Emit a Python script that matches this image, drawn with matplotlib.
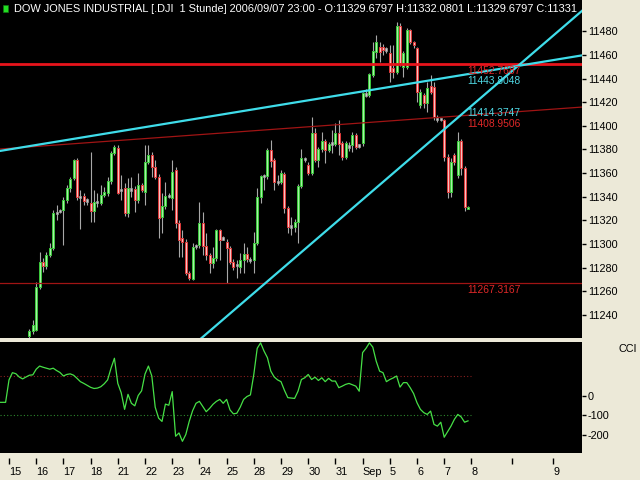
import matplotlib
matplotlib.use('Agg')
import matplotlib.pyplot as plt
from matplotlib.patches import Rectangle
import numpy as np

plt.rcParams['font.family'] = ['Liberation Sans', 'DejaVu Sans']

# ---------------- data ----------------
first_bar = 6
opens = [11222, 11226, 11227, 11264, 11285, 11281, 11291, 11296.4, 11326, 11327.5,
         11329, 11337, 11347, 11355.6, 11371, 11340, 11340.7, 11336.5, 11334.5, 11328,
         11335.5, 11335, 11341.5, 11343, 11353, 11377, 11381,
         11345, 11347, 11326.6, 11346.5, 11346.3, 11337.3, 11350, 11344.3, 11369.7, 11375.3,
         11364.9, 11357, 11322.6, 11332.2, 11340.5, 11338.7, 11362.7, 11318.1, 11304.8, 11302,
         11275.2, 11270.2, 11298, 11299.2, 11317.5, 11298.4, 11290.8, 11283.7, 11288, 11311.9,
         11304.5, 11302, 11296.4, 11285.1,
         11282, 11280.9, 11286.5, 11291.6, 11286.3, 11286.5, 11301.2, 11340.1, 11357, 11357.6,
         11379.6, 11371.1, 11352.5, 11352.8, 11359.3, 11330.3, 11314.5, 11314.7, 11319, 11349.1,
         11371.5, 11366.9, 11359.9, 11393.7, 11371.1, 11380.2, 11387.5, 11379.6, 11385, 11384.4,
         11393.7, 11385.2, 11374, 11382.2,
         11383.8, 11392.3, 11384, 11385.2, 11426, 11426.5, 11443, 11462.8, 11467, 11467,
         11464.6, 11461.4, 11448.7, 11445.9, 11484.8, 11450, 11450, 11481.1, 11471.2, 11465.6,
         11417.7, 11426.1, 11419.1, 11434, 11433.2, 11405.6, 11405.6, 11405, 11374, 11344.3,
         11375.4, 11358.4, 11387.2, 11364.1, 11329.6797]
highs = [11228, 11235.7, 11268, 11293, 11288, 11293.5, 11300.6, 11328.8, 11333, 11330,
         11340, 11350, 11357, 11372, 11373, 11345.7, 11343, 11339, 11377.6, 11345.7,
         11343, 11350, 11348.5, 11357, 11379, 11384, 11384,
         11358.4, 11351.4, 11355.6, 11357, 11349, 11359.8, 11352, 11383.8, 11383.8, 11378,
         11371, 11359, 11342.9, 11352.8, 11343, 11371.1, 11365, 11320, 11311.9, 11304,
         11277, 11300.6, 11300, 11335.9, 11327.4, 11309, 11292, 11297.8, 11313, 11313,
         11306.5, 11304, 11298, 11287,
         11286.5, 11292.2, 11300.6, 11297.8, 11289.4, 11310.5, 11347.2, 11358.5, 11359.3, 11381,
         11388, 11373, 11358.5, 11362.7, 11361, 11332, 11323.2, 11321, 11351, 11380.2,
         11374, 11369, 11407.8, 11397.9, 11382, 11395.1, 11389, 11386, 11396.5, 11402.2,
         11405, 11387, 11387, 11386,
         11395, 11394, 11385, 11429, 11431, 11445, 11471.2, 11476.9, 11471.2, 11469,
         11467, 11468.4, 11468.4, 11488.2, 11487, 11463, 11482.5, 11482, 11472, 11467,
         11431, 11428, 11437.4, 11443, 11437.4, 11409.2, 11407, 11406, 11376, 11372.5,
         11377, 11395.1, 11389, 11366, 11332.0801]
lows = [11219, 11224, 11226, 11262, 11276, 11279, 11289, 11295, 11320.3, 11326,
        11299, 11335, 11344, 11354, 11337, 11313, 11333, 11333, 11319, 11319,
        11331.6, 11333, 11340, 11341, 11351, 11375, 11342,
        11337.3, 11324, 11323.2, 11340, 11327.4, 11335, 11344, 11333, 11368, 11357,
        11355, 11304.9, 11309.1, 11330, 11339, 11328.8, 11313.3, 11289.3, 11289.3, 11273.8,
        11269.6, 11269.6, 11296, 11297, 11290.8, 11286.5, 11275.2, 11279.5, 11286, 11286.5,
        11303, 11266.8, 11283, 11278,
        11271, 11275.3, 11275.3, 11285, 11283.7, 11275.3, 11299, 11334.5, 11345.8, 11355,
        11365.5, 11345.8, 11350, 11351, 11326, 11309.1, 11307.7, 11310.5, 11300.6, 11347,
        11369, 11358, 11358, 11369, 11365.5, 11378, 11368.3, 11378, 11376.8, 11383,
        11375.4, 11371, 11372, 11379,
        11378.2, 11380, 11381, 11383, 11424, 11424, 11441, 11457.1, 11454.3, 11460,
        11462, 11437.4, 11440.2, 11444, 11451, 11441.6, 11448, 11469, 11466, 11420.5,
        11415, 11414.8, 11412, 11427, 11405, 11403.6, 11404, 11370, 11338.7, 11340.1,
        11367, 11356, 11358.4, 11328, 11329.6797]
closes = [11226, 11231.5, 11264, 11285, 11281, 11291, 11296.4, 11326, 11327, 11328,
          11337, 11347, 11354.7, 11371, 11340, 11339.5, 11336.7, 11337, 11328, 11335.8,
          11336, 11341.5, 11344.3, 11353.6, 11377, 11382, 11343,
          11346, 11326, 11347, 11346, 11337.3, 11350, 11345.7, 11369.7, 11375.3, 11364.9,
          11357, 11321.8, 11332.2, 11340.7, 11341, 11361.2, 11317.5, 11303.4, 11302, 11275.2,
          11271, 11297.8, 11298.5, 11317.5, 11298.4, 11290.8, 11283.7, 11288, 11311.9, 11303.4,
          11305, 11296.4, 11285.1, 11280.9,
          11282.5, 11286.5, 11291.6, 11287.1, 11286.7, 11300.6, 11340.1, 11357.6, 11358, 11379.6,
          11370.6, 11352.8, 11352.8, 11359.9, 11330.3, 11314.7, 11315, 11319, 11349.1, 11372.6,
          11372, 11359.9, 11393.7, 11371.1, 11380.2, 11387.5, 11379.6, 11384.7, 11385.4, 11393.7,
          11384.4, 11374, 11385.2, 11382.6,
          11392.3, 11382.4, 11383, 11427.5, 11426.8, 11443.6, 11463.3, 11470.7, 11462.8, 11464.2,
          11464.8, 11445.9, 11445.9, 11484.8, 11452.9, 11461.4, 11481.1, 11471.2, 11468.4, 11428.9,
          11428.9, 11419.1, 11432.3, 11428.9, 11407.8, 11405.9, 11405.9, 11374, 11344.3, 11369.7,
          11369.7, 11387.2, 11364.1, 11331.7, 11331]

cci_first = -3
cci = [-35, -35, -35, 80, 117, 112, 95, 85, 95, 104, 106, 135, 151, 145, 140, 135, 140, 128,
       118, 100, 108, 111, 104, 88, 71, 62, 52, 42, 36, 38, 45, 60, 80, 140, 191, 62, 14, -71,
       6, -40, -53, 0, 24, 110, 151, 100, -60, -116, -133, -44, -50, 20, -209, -192, -235, -200,
       -133, -78, -40, -30, -57, -83, -66, -45, -30, -20, -40, -20, -74, -94, -91, -60, -20, -5,
       3, 108, 242, 270, 228, 194, 125, 95, 80, 71, 27, -11, -13, -15, 22, 82, 91, 108, 82, 94,
       77, 91, 71, 88, 74, 74, 40, 48, 57, 62, 55, 48, 22, 220, 242, 270, 248, 176, 125, 117,
       71, 82, 90, 100, 43, 66, 66, 40, 10, -37, -71, -88, -97, -80, -148, -157, -137, -214,
       -185, -157, -122, -97, -110, -137, -130]

day_labels = ['15', '16', '17', '18', '21', '22', '23', '24', '25', '28', '29', '30', '31',
              'Sep', '5', '6', '7', '8', '', '9']
day_ticks = [0, 8, 16, 24, 32, 40, 48, 56, 64, 72, 80, 88, 96, 104, 112, 120, 128, 136, 148, 160]

hlines_red = [11452.7687, 11267.3167]
trend_cyan_values = [11443.8048, 11414.3747]
trend_cyan_slopes = [0.4724, 2.474]
trend_red_value = 11408.9506
trend_red_slope = 0.2075
price_ticks = list(range(11240, 11481, 20))
cci_ticks = [0, -100, -200]
title = ("DOW JONES INDUSTRIAL [.DJI  1 Stunde] 2006/09/07 23:00 - O:11329.6797 "
         "H:11332.0801 L:11329.6797 C:11331")

# ---------------- figure ----------------
BG = '#ECE9D8'
fig = plt.figure(figsize=(6.4, 4.8), dpi=100)
fig.patch.set_facecolor(BG)
ax = fig.add_axes([0, 1 - 338 / 480, 581.7 / 640, 338 / 480])
ax2 = fig.add_axes([0, 1 - 452.7 / 480, 581.7 / 640, (452.7 - 341.7) / 480])
for a in (ax, ax2):
    a.set_facecolor('black')
    for s in a.spines.values():
        s.set_visible(False)

xmin, xmax = -2.65, 168.44
n = len(opens)
xs = np.arange(first_bar, first_bar + n)
o = np.array(opens); h = np.array(highs); l = np.array(lows); c = np.array(closes)

ax.vlines(xs, l, h, color='#A8A8A8', linewidth=0.8, zorder=2)
up = c - o > 1.2
dn = o - c > 1.2
dj = ~(up | dn)
ax.bar(xs[up], (c - o)[up], bottom=o[up], width=0.62, color='#A6EFA6',
       edgecolor='#3BC83B', linewidth=0.7, zorder=3)
ax.bar(xs[dn], (o - c)[dn], bottom=c[dn], width=0.62, color='#F4C2C2',
       edgecolor='#E03A3A', linewidth=0.7, zorder=3)
mid = (o + c) / 2
ax.bar(xs[dj], np.full(dj.sum(), 2.0), bottom=mid[dj] - 1.0, width=0.62,
       color='#C8C8C8', edgecolor='#A0A0A0', linewidth=0.5, zorder=3)

last = first_bar + n - 1
lx = np.array([xmin - 5, xmax + 5])
# trend lines
ax.axhline(hlines_red[0], color='#E8141B', linewidth=2.0, zorder=5)
ax.axhline(hlines_red[1], color='#A01414', linewidth=0.9, zorder=5)
ax.plot(lx, trend_red_value + trend_red_slope * (lx - last), color='#A01414', linewidth=0.9, zorder=5)
for v, s in zip(trend_cyan_values, trend_cyan_slopes):
    ax.plot(lx, v + s * (lx - last), color='#3FDDEA', linewidth=1.6, zorder=6)

lab_x = last - 0.3
def lbl(val, col, dy=-1.5):
    ax.annotate(f"{val:.4f}", (lab_x, val), xytext=(0, dy), textcoords='offset points',
                va='top', ha='left', color=col, fontsize=7.4, zorder=7)
lbl(hlines_red[0], '#E02828')
lbl(trend_cyan_values[0], '#4FD8E4')
lbl(trend_cyan_values[1], '#4FD8E4', dy=0.5)
lbl(trend_red_value, '#E02828', dy=-3.0)
lbl(hlines_red[1], '#E02828')

ax.set_xlim(xmin, xmax)
ax.set_ylim(11220.5, 11506.5)
ax.yaxis.tick_right()
ax.set_yticks(price_ticks)
ax.set_yticklabels([str(t) for t in price_ticks])
ax.tick_params(axis='y', direction='out', length=3, width=1, pad=1.5, colors='black',
               labelsize=7.8)
ax.set_xticks([])

ax.text(14 / 581.7, 1 - 8.5 / 338, title, transform=ax.transAxes, color='white',
        fontsize=7.9, va='center', ha='left', clip_on=True, zorder=8)
ax.add_patch(Rectangle((2.5 / 581.7, 1 - 12 / 338), 5 / 581.7, 7 / 338, transform=ax.transAxes,
                       facecolor='#22DD22', edgecolor='#117711', linewidth=0.5, zorder=8))

# CCI panel
cx = np.arange(cci_first, cci_first + len(cci))
ax2.plot([xmin, 136], [100, 100], color='#8A2020', linestyle=(0, (1, 2)), linewidth=0.8)
ax2.plot([xmin, 136], [-100, -100], color='#2E8A2E', linestyle=(0, (1, 2)), linewidth=0.8)
ax2.plot(cx, cci, color='#46E046', linewidth=0.9)
ax2.set_xlim(xmin, xmax)
ax2.set_ylim(-293.3, 275.9)
ax2.yaxis.tick_right()
ax2.set_yticks(cci_ticks)
ax2.set_yticklabels([str(t) for t in cci_ticks])
ax2.tick_params(axis='y', direction='out', length=3, width=1, pad=1.5, colors='black',
                labelsize=7.8)
ax2.set_xticks(day_ticks)
ax2.set_xticklabels(day_labels)
ax2.spines['bottom'].set_visible(True)
ax2.spines['bottom'].set_color('none')
ax2.spines['bottom'].set_position(('outward', 3.5))
ax2.tick_params(axis='x', direction='out', length=4, width=1, pad=3, colors='black',
                labelsize=7.8)
for t in ax2.get_xticklabels():
    t.set_ha('left')

fig.text(637 / 640, 1 - 349 / 480, 'CCI', ha='right', va='center', fontsize=7.8, color='black')

fig.savefig('out.png', dpi=100, facecolor=BG)
